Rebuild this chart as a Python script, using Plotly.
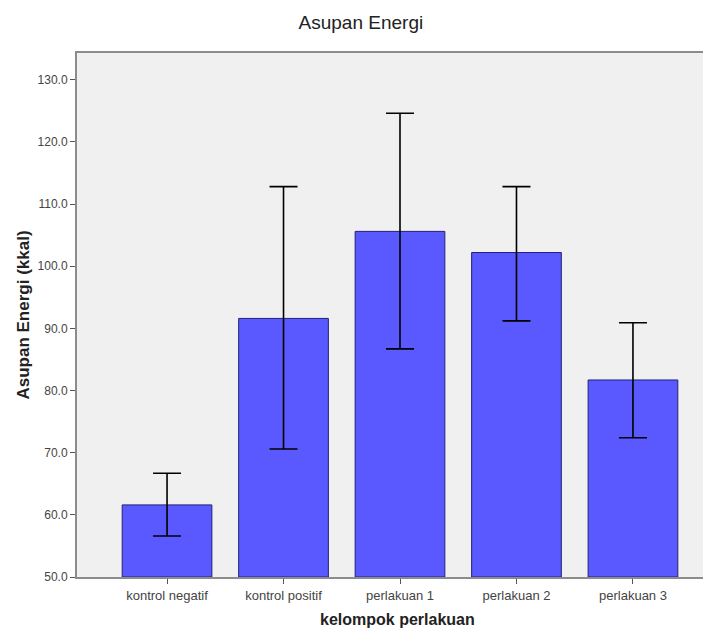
import plotly.graph_objects as go

categories = ["kontrol negatif", "kontrol positif", "perlakuan 1", "perlakuan 2", "perlakuan 3"]
means = [61.6, 91.6, 105.6, 102.2, 81.7]
ci_upper = [66.7, 112.8, 124.6, 112.8, 90.9]
ci_lower = [56.6, 70.6, 86.7, 91.2, 72.4]
y_ticks = [50, 60, 70, 80, 90, 100, 110, 120, 130]
y_tick_labels = ["50.0", "60.0", "70.0", "80.0", "90.0", "100.0", "110.0", "120.0", "130.0"]

err_plus = [u - m for u, m in zip(ci_upper, means)]
err_minus = [m - l for m, l in zip(means, ci_lower)]

fig = go.Figure()
fig.add_trace(go.Bar(
    x=list(range(len(categories))),
    y=[m - 50 for m in means],
    base=50,
    width=0.77,
    marker=dict(color="#5959FF", line=dict(color="#20207A", width=1)),
    error_y=dict(type="data", symmetric=False, array=err_plus, arrayminus=err_minus,
                 color="#000000", thickness=1.6, width=14),
    hoverinfo="skip",
))

# page body adds an 8px offset; figure sized so it fills the 711x630 window
fig.update_layout(
    width=703, height=622,
    margin=dict(l=69, r=0, t=45, b=53),
    paper_bgcolor="#FFFFFF",
    plot_bgcolor="#F0F0F0",
    showlegend=False,
    font=dict(family="Liberation Sans, Arial, sans-serif", color="#333333"),
    title=dict(text="Asupan Energi", x=0.502, xanchor="center", y=0.9775, yanchor="middle",
               font=dict(size=19, color="#222222")),
)
fig.add_annotation(
    text="<b>kelompok perlakuan</b>", xref="paper", yref="paper", x=0.505, y=0,
    xanchor="center", yanchor="middle", yshift=-42, showarrow=False,
    font=dict(size=16, color="#222222"),
)
fig.update_xaxes(
    automargin=False,
    tickmode="array", tickvals=list(range(len(categories))), ticktext=categories,
    range=[-0.773, 4.67],
    showline=True, linecolor="#8C8C8C", linewidth=2, mirror=True,
    ticks="outside", ticklen=5, tickcolor="#555555",
    tickfont=dict(size=13, color="#444444"),
    showgrid=False, zeroline=False,
)
fig.update_yaxes(
    automargin=False,
    range=[50, 134.3],
    tickmode="array", tickvals=y_ticks, ticktext=y_tick_labels,
    showline=True, linecolor="#8C8C8C", linewidth=2,
    ticks="outside", ticklen=5, tickcolor="#555555",
    tickfont=dict(size=12, color="#444444"),
    showgrid=False, zeroline=False,
    title=dict(text="<b>Asupan Energi (kkal)</b>", font=dict(size=17, color="#222222"), standoff=4),
)

fig.write_html("out.html")
